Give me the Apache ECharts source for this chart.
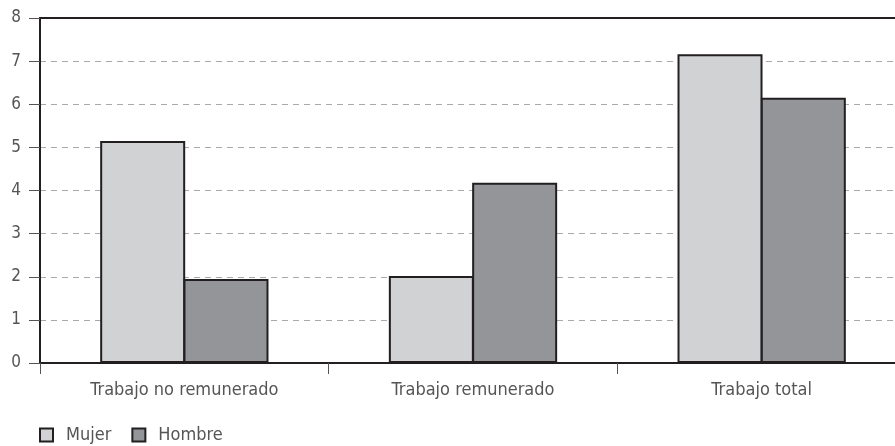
<!DOCTYPE html>
<html>
<head>
<meta charset="utf-8">
<script src="https://cdn.jsdelivr.net/npm/echarts@6/dist/echarts.min.js"></script>
<style>
  html, body { margin: 0; padding: 0; background: #fff; }
  #chart { width: 895px; height: 446px; }
</style>
</head>
<body>
<div id="chart"></div>
<script>
// datos del gráfico
var categorias = ['Trabajo no remunerado', 'Trabajo remunerado', 'Trabajo total'];
var mujer = [5.15, 2.02, 7.16];
var hombre = [1.95, 4.18, 6.15];
var ticksY = [0, 1, 2, 3, 4, 5, 6, 7, 8];

var fuente = '"Liberation Sans Narrow", "DejaVu Sans Condensed", "Open Sans", sans-serif';
var borde = '#231f20';
var texto = '#555';

var chart = echarts.init(document.getElementById('chart'));
chart.setOption({
    animation: false,
    textStyle: { fontFamily: fuente },
    grid: {
        left: 40, top: 18, width: 866, height: 345,
        outerBoundsMode: 'none',
        show: true, borderColor: borde, borderWidth: 2, backgroundColor: 'transparent'
    },
    legend: {
        left: 34, top: 421, itemWidth: 13, itemHeight: 13, itemGap: 20,
        icon: 'rect',
        textStyle: { fontFamily: fuente, fontSize: 18, color: texto, padding: [0, 0, 0, 8] },
        data: ['Mujer', 'Hombre']
    },
    xAxis: {
        type: 'category',
        data: categorias,
        axisLine: { lineStyle: { color: borde, width: 2 } },
        axisTick: { show: true, length: 11, lineStyle: { color: '#555', width: 1 } },
        axisLabel: { fontSize: 18, color: texto, margin: 18, fontFamily: fuente }
    },
    yAxis: {
        type: 'value',
        min: ticksY[0], max: ticksY[ticksY.length - 1], interval: 1,
        axisLine: { show: true, lineStyle: { color: borde, width: 2 } },
        axisTick: { show: true, length: 11, lineStyle: { color: '#555', width: 1 } },
        axisLabel: { fontSize: 17, color: texto, margin: 19, fontFamily: fuente },
        splitLine: {
            show: true, showMinLine: false, showMaxLine: false,
            lineStyle: { color: '#a7a9ac', type: [6, 5], width: 1 }
        }
    },
    series: [
        {
            name: 'Mujer', type: 'bar', data: mujer,
            barWidth: 85, barGap: '-2%',
            itemStyle: { color: '#d1d2d4', borderColor: borde, borderWidth: 2 }
        },
        {
            name: 'Hombre', type: 'bar', data: hombre,
            barWidth: 85,
            itemStyle: { color: '#939598', borderColor: borde, borderWidth: 2 }
        }
    ]
});
</script>
</body>
</html>
